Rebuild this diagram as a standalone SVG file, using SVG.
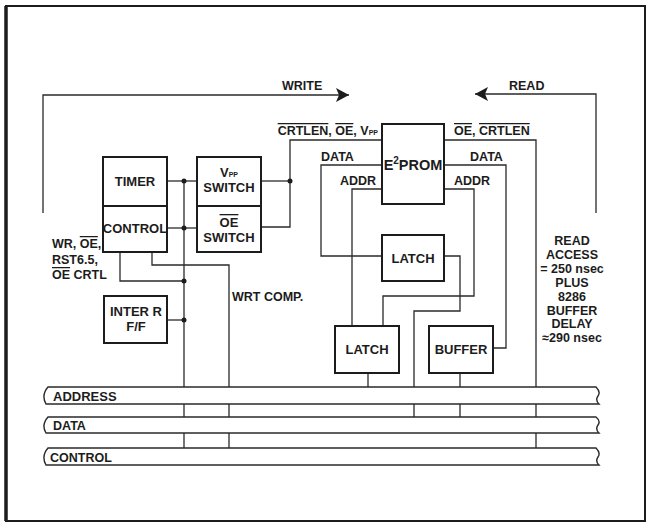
<svg xmlns="http://www.w3.org/2000/svg" width="649" height="526" viewBox="0 0 649 526">
<style>
text{font-family:"Liberation Sans",Arial,sans-serif;font-weight:bold;fill:#1c1c1c}
.lbl{font-size:12.5px}
.box{fill:#fff;stroke:#1c1c1c;stroke-width:2}
.bt{font-size:13px;text-anchor:middle}
.w{fill:none;stroke:#2a2a2a;stroke-width:1.3}
.bus{fill:#fff;stroke:#2a2a2a;stroke-width:1.4}
.dot{fill:#1c1c1c}
.ov{text-decoration:overline}
.sub{font-size:7px}
.mid{text-anchor:middle}
</style>
<defs>
<marker id="ah" markerUnits="userSpaceOnUse" markerWidth="14" markerHeight="14" viewBox="0 0 14 14" refX="13" refY="7" orient="auto">
<path d="M0,0 L13,7 L0,14 L3,7 Z" fill="#1c1c1c"/>
</marker>
</defs>
<rect x="0" y="0" width="649" height="526" fill="#fff"/>
<rect x="6" y="6" width="639" height="515" fill="none" stroke="#1c1c1c" stroke-width="2"/>
<line x1="6" y1="6" x2="6" y2="521" stroke="#1c1c1c" stroke-width="3.5"/>

<g id="connectors">
<path class="w" d="M43,213 V95 H349" marker-end="url(#ah)"/>
<path class="w" d="M596,213 V94 H475" marker-end="url(#ah)"/>
<path class="w" d="M167,181 H197"/>
<path class="w" d="M167,228 H197"/>
<path class="w" d="M184,181 V448"/>
<path class="w" d="M120,252 V281 H184"/>
<path class="w" d="M152,252 V265 H229 V448"/>
<path class="w" d="M167,320 H184"/>
<path class="w" d="M261,181 H290"/>
<path class="w" d="M261,227 H290 V140 H382"/>
<path class="w" d="M382,165 H321 V256 H382"/>
<path class="w" d="M382,189 H352 V326"/>
<path class="w" d="M444,189 H474 V296 H383 V326"/>
<path class="w" d="M444,256 H460 V311 H414 V417"/>
<path class="w" d="M444,165 H506 V348 H493"/>
<path class="w" d="M444,140 H536 V448"/>
<path class="w" d="M368,373 V387"/>
<path class="w" d="M460,373 V417"/>
<circle class="dot" cx="184" cy="181" r="2.5"/>
<circle class="dot" cx="184" cy="228" r="2.5"/>
<circle class="dot" cx="290" cy="181" r="2.5"/>
<circle class="dot" cx="184" cy="281" r="2.5"/>
<circle class="dot" cx="184" cy="320" r="2.5"/>
</g>

<g id="bus-address">
<path class="bus" d="M48,387 H596 Q601,392 598,396 Q595,400 599,404 H46 Q41,395 48,387 Z"/>
<text class="lbl" x="53" y="401" style="font-size:13px">ADDRESS</text>
</g>
<g id="bus-data">
<path class="bus" d="M48,417 H596 Q601,421 598,425 Q595,429 599,433 H46 Q41,425 48,417 Z"/>
<text class="lbl" x="53" y="430">DATA</text>
</g>
<g id="bus-control">
<path class="bus" d="M48,448 H596 Q601,453 598,457 Q595,461 599,465 H46 Q41,456 48,448 Z"/>
<text class="lbl" x="50" y="462">CONTROL</text>
</g>

<g id="timer-control">
<rect class="box" x="103" y="157" width="64" height="95"/>
<line x1="103" y1="206" x2="167" y2="206" stroke="#1c1c1c" stroke-width="2"/>
<text class="bt" x="135" y="186">TIMER</text>
<text class="bt" x="135" y="233">CONTROL</text>
</g>

<g id="vpp-oe-switch">
<rect class="box" x="197" y="157" width="64" height="95"/>
<line x1="197" y1="206" x2="261" y2="206" stroke="#1c1c1c" stroke-width="2"/>
<text class="bt" x="229" y="177">V<tspan class="sub">PP</tspan></text>
<text class="bt" x="229" y="192">SWITCH</text>
<text class="bt" x="229" y="227"><tspan class="ov">OE</tspan></text>
<text class="bt" x="229" y="242">SWITCH</text>
</g>

<g id="inter-ff">
<rect class="box" x="104" y="296" width="63" height="47"/>
<text class="bt" x="136" y="316">INTER R</text>
<text class="bt" x="136" y="331">F/F</text>
</g>

<g id="e2prom">
<rect class="box" x="382" y="124" width="62" height="80"/>
<text class="bt" x="413" y="170" style="font-size:14.5px">E<tspan style="font-size:10px" dy="-6">2</tspan><tspan dy="6">PROM</tspan></text>
</g>

<g id="latch-upper">
<rect class="box" x="382" y="235" width="62" height="46"/>
<text class="bt" x="413" y="263">LATCH</text>
</g>

<g id="latch-lower">
<rect class="box" x="335" y="326" width="64" height="47"/>
<text class="bt" x="367" y="354">LATCH</text>
</g>

<g id="buffer">
<rect class="box" x="429" y="326" width="64" height="47"/>
<text class="bt" x="461" y="354">BUFFER</text>
</g>

<g id="labels">
<text class="lbl" x="282" y="90">WRITE</text>
<text class="lbl" x="509" y="90">READ</text>
<text class="lbl" x="378" y="135" text-anchor="end"><tspan class="ov">CRTLEN</tspan>, <tspan class="ov">OE</tspan>, V<tspan class="sub">PP</tspan></text>
<text class="lbl" x="454" y="135"><tspan class="ov">OE</tspan>, <tspan class="ov">CRTLEN</tspan></text>
<text class="lbl" x="321" y="161">DATA</text>
<text class="lbl" x="340" y="185">ADDR</text>
<text class="lbl" x="470" y="161">DATA</text>
<text class="lbl" x="454" y="185">ADDR</text>
<text class="lbl" x="232" y="301">WRT COMP.</text>
<text class="lbl" x="52" y="248">WR, <tspan class="ov">OE</tspan>,</text>
<text class="lbl" x="52" y="264">RST6.5,</text>
<text class="lbl" x="52" y="279"><tspan class="ov">OE</tspan> CRTL</text>
<text class="lbl mid" x="572" y="245">READ</text>
<text class="lbl mid" x="572" y="259">ACCESS</text>
<text class="lbl mid" x="572" y="273">= 250 nsec</text>
<text class="lbl mid" x="572" y="287">PLUS</text>
<text class="lbl mid" x="572" y="301">8286</text>
<text class="lbl mid" x="572" y="315">BUFFER</text>
<text class="lbl mid" x="572" y="328">DELAY</text>
<text class="lbl mid" x="572" y="342">≈290 nsec</text>
</g>
</svg>
